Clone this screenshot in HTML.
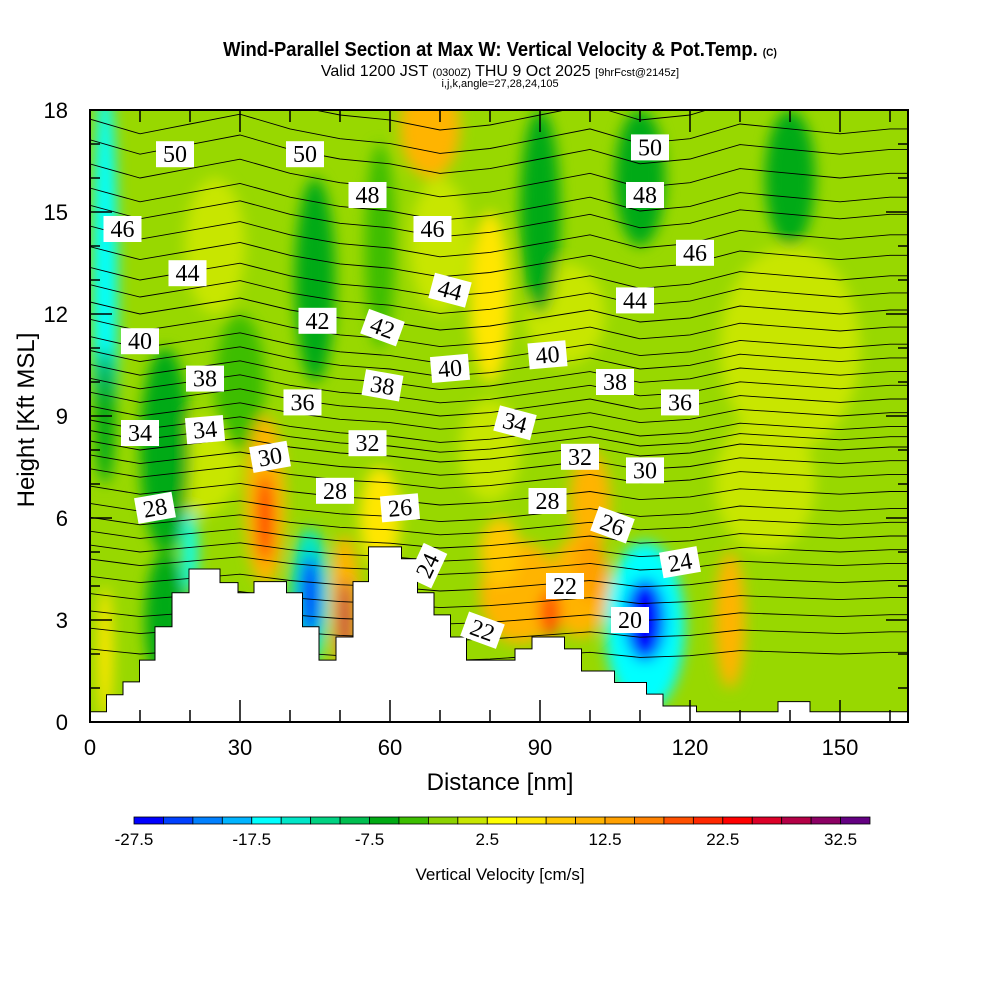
<!DOCTYPE html>
<html><head><meta charset="utf-8"><style>
body{margin:0;background:#fff;width:1000px;height:1000px;overflow:hidden}
svg{display:block}
text{font-family:"Liberation Sans",sans-serif}
</style></head><body>
<svg id="chart" width="1000" height="1000" viewBox="0 0 1000 1000">
<defs>
<clipPath id="plotclip"><rect x="90" y="110" width="818" height="612"/></clipPath>
<filter id="blur" x="-50%" y="-50%" width="200%" height="200%"><feGaussianBlur stdDeviation="7"/></filter>
</defs>
<text x="500" y="56" text-anchor="middle" font-size="20" font-weight="bold" transform="translate(500,0) scale(0.92,1) translate(-500,0)">Wind-Parallel Section at Max W: Vertical Velocity &amp; Pot.Temp. <tspan font-size="11">(C)</tspan></text>
<text x="500" y="76" text-anchor="middle" font-size="16">Valid 1200 JST <tspan font-size="11">(0300Z)</tspan> THU 9 Oct 2025 <tspan font-size="11">[9hrFcst@2145z]</tspan></text>
<text x="500" y="87" text-anchor="middle" font-size="11">i,j,k,angle=27,28,24,105</text>
<g clip-path="url(#plotclip)">
<rect x="90" y="110" width="818" height="612" fill="#98d800"/>
<g id="blobs" filter="url(#blur)"></g>
<g id="contours"></g>
<polygon id="terrain" fill="#fff" stroke="#000" stroke-width="1"/>
</g>
<g id="labels"></g>
<g id="axes"></g>
<rect x="90" y="110" width="818" height="612" fill="none" stroke="#000" stroke-width="2"/>
<text x="500" y="790" text-anchor="middle" font-size="24">Distance [nm]</text>
<text transform="translate(34,420) rotate(-90)" text-anchor="middle" font-size="24">Height [Kft MSL]</text>
<g id="colorbar"></g>
<text x="500" y="880" text-anchor="middle" font-size="17">Vertical Velocity [cm/s]</text>
</svg>
<script>
const NS="http://www.w3.org/2000/svg";
const cbColors=["#0000ff","#0040ff","#0080ff","#00b4ff","#00ffff","#00e6c8","#00d282","#00be50","#00aa14","#3cbe00","#8cd200","#c8e600","#ffff00","#ffe600","#ffc800","#ffb400","#ffa000","#ff8200","#ff5000","#ff2800","#ff0000","#dc0028","#b40046","#8c0064","#640082"];
const cbTickLabels=["-27.5","-17.5","-7.5","2.5","12.5","22.5","32.5"];
const xTicks=[0,30,60,90,120,150];
const yTicks=[0,3,6,9,12,15,18];
const terrX=[0,3.3,6.6,9.9,13,16.4,19.8,26,29.6,32.8,39.3,42.5,45.8,49.2,52.6,55.7,62.3,65.5,68.8,72.1,75.3,85,88.4,94.9,98.3,104.9,111.3,114.6,121.3,137.6,144,164];
const terrZ=[0.3,0.8,1.18,1.82,2.8,3.8,4.5,4.1,3.8,4.13,3.8,2.8,1.82,2.5,4.13,5.15,4.8,3.8,3.15,2.5,1.82,2.15,2.5,2.15,1.5,1.16,0.82,0.47,0.3,0.6,0.3,0.3];
const blobX=[140,135,20,80,95,70,25,3,3,15,45,68,80,90,110,140,30,35,35,20,44,44,51,51,86,98,92,111,111,128,3,15,58,100,58,82,100];
const blobZ=[11,7,7.5,8,12,14,14,13,9,8,13,17.5,12.5,15,16,16,10,6.5,6,5,3.7,3.7,3.5,3,3.8,4,3.2,2.8,3,3,2,3,6,6.5,14,5,4.5];
const blobRX=[14,10,10,6,8,6,6,2.5,2,5,4,6,4,4,5,5,5,4,1.5,1.5,4,2,3,1.2,8,6,2,8,4,3,1.5,4,4,4,3,4,3];
const blobRZ=[3,2,1.5,1.5,1.5,2,2,6,2,3,3,1.5,2.5,3,2,2,2,2.5,1.3,1.2,2,1.2,2,1.2,1.5,1.5,0.7,2.5,1.2,2,2,2,1.5,1.5,3,1,1];
const blobV=[1,1,1,1,1,1,1,-17,-7,-7,-7,10,5,-7,-7,-7,-5,12,22,-17,-15,-25,12,28,10,12,18,-17,-27,10,5,-7,5,10,-5,8,14];
const thetaLevels=[19,20,21,22,23,24,25,26,27,28,29,30,31,32,33,34,35,36,37,38,39,40,41,42,43,44,45,46,47,48,49,50,51,52];
const thetaBase=[2.0,2.6,3.1,3.6,4.1,4.6,5.0,5.4,5.8,6.2,6.7,7.2,7.6,8.0,8.3,8.6,9.0,9.4,9.8,10.2,10.6,11.0,11.5,12.0,12.5,13.0,13.6,14.2,14.8,15.3,16.0,16.7,17.3,18.0];
const nodeX=[0,10,20,30,40,50,60,70,80,90,100,110,120,130,140,150,160,164];
const nodeOff=[0.3,0,0.2,0.4,0.1,-0.1,-0.2,-0.4,-0.3,-0.1,0.1,-0.2,-0.1,0.2,0.1,0,0.1,0.1];
const lblText=["50","50","48","48","50","46","46","46","44","44","44","42","42","40","40","40","38","38","38","36","36","34","34","34","32","32","30","30","28","28","28","26","26","24","24","22","22","20"];
const lblX=[17,43,55.5,111,112,6.5,68.5,121,19.5,72,109,45.5,58.5,10,72,91.5,23,58.5,105,42.5,118,10,23,85,55.5,98,36,111,13,49,91.5,62,104.5,67.5,118,95,78.5,108];
const lblZ=[16.7,16.7,15.5,15.5,16.9,14.5,14.5,13.8,13.2,12.7,12.4,11.8,11.6,11.2,10.4,10.8,10.1,9.9,10.0,9.4,9.4,8.5,8.6,8.8,8.2,7.8,7.8,7.4,6.3,6.8,6.5,6.3,5.8,4.6,4.7,4.0,2.7,3.0];
const lblRot=[0,0,0,0,0,0,0,0,0,15,0,0,20,0,-5,-5,0,10,0,0,0,0,-5,15,0,0,-10,0,-10,0,0,-5,20,-65,-10,0,20,0];
const X=v=>90+5*v, Y=z=>722-34*z;
const valColor=v=>{let i=Math.floor((v+27.5)/2.5);i=Math.max(0,Math.min(24,i));return cbColors[i];};
const blobs=document.getElementById('blobs');
for(let i=0;i<blobX.length;i++){
 const e=document.createElementNS(NS,'ellipse');
 e.setAttribute('cx',X(blobX[i]));e.setAttribute('cy',Y(blobZ[i]));
 e.setAttribute('rx',blobRX[i]*5);e.setAttribute('ry',blobRZ[i]*34);
 e.setAttribute('fill',valColor(blobV[i]));
 
 
 blobs.appendChild(e);
}
const cg=document.getElementById('contours');
thetaLevels.forEach((lv,k)=>{
 let d='';
 nodeX.forEach((nx,j)=>{d+=(j?'L':'M')+X(nx)+','+Y(thetaBase[k]+nodeOff[j]*(0.5+k/thetaLevels.length));});
 const p=document.createElementNS(NS,'path');
 p.setAttribute('d',d);p.setAttribute('fill','none');p.setAttribute('stroke','#000');p.setAttribute('stroke-width','0.9');
 
 
 cg.appendChild(p);
});
let pts=[];
for(let i=0;i<terrX.length-1;i++){pts.push(X(terrX[i])+','+Y(terrZ[i]));pts.push(X(terrX[i+1])+','+Y(terrZ[i]));}
pts.push(X(164)+','+Y(-1));pts.push(X(0)+','+Y(-1));
document.getElementById('terrain').setAttribute('points',pts.join(' '));
const lg=document.getElementById('labels');
lblText.forEach((t,i)=>{
 const g=document.createElementNS(NS,'g');
 g.setAttribute('transform','translate('+X(lblX[i])+','+Y(lblZ[i])+') rotate('+lblRot[i]+')');
 
 
 const r=document.createElementNS(NS,'rect');
 r.setAttribute('x',-19);r.setAttribute('y',-13);r.setAttribute('width',38);r.setAttribute('height',26);r.setAttribute('fill','#fff');
 const tx=document.createElementNS(NS,'text');
 tx.setAttribute('text-anchor','middle');tx.setAttribute('y',8);tx.setAttribute('font-size','24');
 tx.setAttribute('style','font-family:"Liberation Serif",serif');
 tx.textContent=t;
 g.appendChild(r);g.appendChild(tx);lg.appendChild(g);
});
const ax=document.getElementById('axes');
function line(x1,y1,x2,y2,w,name){const l=document.createElementNS(NS,'line');l.setAttribute('x1',x1);l.setAttribute('y1',y1);l.setAttribute('x2',x2);l.setAttribute('y2',y2);l.setAttribute('stroke','#000');l.setAttribute('stroke-width',w);
 
 
 ax.appendChild(l);}
for(let v=0;v<=160;v+=10){const L=v%30===0?22:12;line(X(v),722,X(v),722-L,1.5,'x-tick');line(X(v),110,X(v),110+L,1.5,'x-tick-top');}
for(let z=0;z<=18;z++){const L=z%3===0?22:10;line(90,Y(z),90+L,Y(z),1.5,'y-tick');line(908,Y(z),908-L,Y(z),1.5,'y-tick-right');}
function txt(x,y,s,anchor,size,name){const t=document.createElementNS(NS,'text');t.setAttribute('x',x);t.setAttribute('y',y);t.setAttribute('text-anchor',anchor);t.setAttribute('font-size',size);t.textContent=s;
 
 
 return t;}
xTicks.forEach(v=>ax.appendChild(txt(X(v),755,String(v),'middle',22,'x-tick-label')));
yTicks.forEach(z=>ax.appendChild(txt(68,Y(z)+8,String(z),'end',22,'y-tick-label')));
const cb=document.getElementById('colorbar');
const cbX0=134,cbW=29.44;
cbColors.forEach((c,i)=>{const r=document.createElementNS(NS,'rect');r.setAttribute('x',cbX0+i*cbW);r.setAttribute('y',817);r.setAttribute('width',cbW);r.setAttribute('height',7);r.setAttribute('fill',c);r.setAttribute('stroke','#000');r.setAttribute('stroke-width','0.8');
 
 
 cb.appendChild(r);});
cbTickLabels.forEach((s,i)=>cb.appendChild(txt(cbX0+i*4*cbW,845,s,'middle',17,'colorbar-tick-label')));
</script>
</body></html>
